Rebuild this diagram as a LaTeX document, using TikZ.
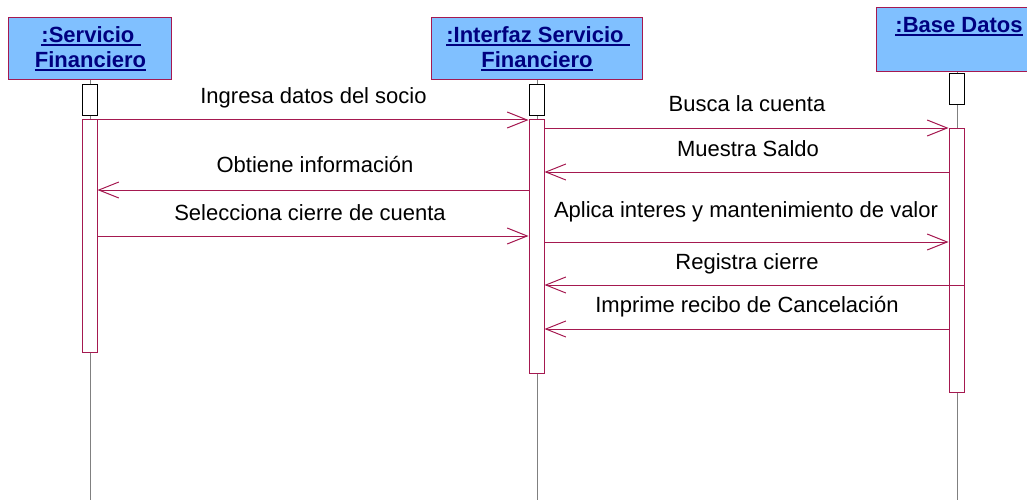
\documentclass[tikz,border=0pt]{standalone}
\usepackage{fontspec}
\setmainfont{Liberation Sans}
\usetikzlibrary{arrows.meta}
\definecolor{crim}{RGB}{165,25,80}
\definecolor{headblue}{RGB}{128,192,255}
\definecolor{ttlnavy}{RGB}{0,0,128}
\newcommand\myul[1]{\setbox0\hbox{#1}\rlap{\rule[-2.8pt]{\wd0}{1.6pt}}\box0}
\tikzset{
 head/.style={draw=crim, fill=headblue, line width=1.3pt, inner sep=0pt, anchor=north west},
 ttl/.style={font=\fontsize{22}{25}\selectfont\bfseries, text=ttlnavy, anchor=base, inner sep=0pt},
 ctrl/.style={draw=black, fill=white, line width=1pt, minimum width=15pt, minimum height=31pt, inner sep=0pt, anchor=north},
 act/.style={draw=crim, fill=white, line width=1pt, minimum width=15pt, inner sep=0pt, anchor=north},
 life/.style={draw=gray, line width=1pt},
 msg/.style={draw=crim, line width=1pt, -{Straight Barb[length=20pt,width=16pt,line width=1pt]}},
 lbl/.style={font=\fontsize{22}{25}\selectfont, anchor=base, inner sep=0pt},
}
\begin{document}
\begin{tikzpicture}[x=1pt,y=-1pt]
\useasboundingbox (0,0) rectangle (1027,500);
\clip (0,0) rectangle (1027,500);
% headers
\node[head, minimum width=163pt, minimum height=62pt] (h1) at (8,17) {};
\node[head, minimum width=211pt, minimum height=62pt] (h2) at (431,17) {};
\node[head, minimum width=161pt, minimum height=64pt] (h3) at (876,7) {};
\node[ttl] (t1a) at (91,43) {\myul{:Servicio\ }};
\node[ttl] (t1b) at (90.5,68) {\myul{Financiero}};
\node[ttl] (t2a) at (538,43) {\myul{:Interfaz Servicio\ }};
\node[ttl] (t2b) at (537,68) {\myul{Financiero}};
\node[ttl] (t3a) at (959,33) {\myul{:Base Datos}};
% lifelines
\draw[life] (h1.south) -- (h1.south |- 0,500);
\draw[life] (h2.south) -- (h2.south |- 0,500);
\draw[life] (h3.south) -- (h3.south |- 0,500);
% control boxes
\node[ctrl] (c1) at (89.5,84) {};
\node[ctrl] (c2) at (536.5,84) {};
\node[ctrl] (c3) at (956.5,73) {};
% activations
\node[act, minimum height=233pt] (a1) at (89.5,119) {};
\node[act, minimum height=254pt] (a2) at (536.5,119) {};
\node[act, minimum height=157pt] (a3a) at (956.5,128) {};
\node[act, minimum height=107pt] (a3b) at (956.5,285) {};
% messages
\draw[msg] (a1.east |- 0,120) -- (a2.west |- 0,120);
\node[lbl] (m1) at (313.5,103) {Ingresa datos del socio};
\draw[msg] (a2.east |- 0,128) -- (a3a.west |- 0,128);
\node[lbl] (m2) at (747,111) {Busca la cuenta};
\draw[msg] (a3a.west |- 0,172) -- (a2.east |- 0,172);
\node[lbl] (m3) at (748,156) {Muestra Saldo};
\draw[msg] (a2.west |- 0,190) -- (a1.east |- 0,190);
\node[lbl] (m4) at (315,172) {Obtiene información};
\draw[msg] (a1.east |- 0,236) -- (a2.west |- 0,236);
\node[lbl] (m5) at (310,220) {Selecciona cierre de cuenta};
\draw[msg] (a2.east |- 0,242) -- (a3a.west |- 0,242);
\node[lbl] (m6) at (746,217) {Aplica interes y mantenimiento de valor};
\draw[msg] (a3b.west |- 0,285) -- (a2.east |- 0,285);
\node[lbl] (m7) at (747,269) {Registra cierre};
\draw[msg] (a3b.west |- 0,329) -- (a2.east |- 0,329);
\node[lbl] (m8) at (747,312) {Imprime recibo de Cancelación};
\end{tikzpicture}
\end{document}
